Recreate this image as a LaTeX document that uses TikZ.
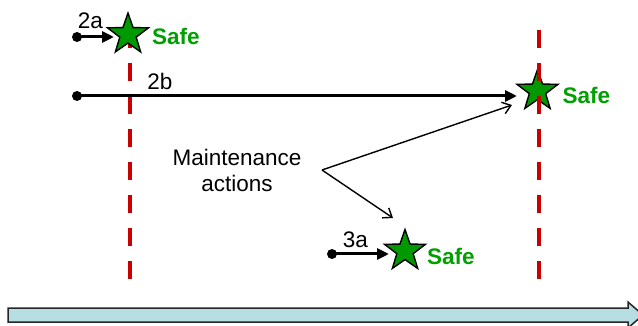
\documentclass[tikz,border=0pt]{standalone}
\usepackage{fontspec}
\setmainfont{Liberation Sans}
\usetikzlibrary{shapes.geometric,arrows.meta,calc}
\definecolor{starGreen}{RGB}{0,153,0}
\definecolor{safeGreen}{RGB}{0,160,0}
\definecolor{lineRed}{RGB}{200,0,0}
\definecolor{barCyan}{RGB}{183,222,226}
\tikzset{
  x=1pt, y=1pt,
  safestar/.style={star, star points=5, star point ratio=2.5, minimum size=43pt, inner sep=0pt,
    fill=starGreen, draw=black, line width=1.4pt},
  safelabel/.style={anchor=west, text=safeGreen, font=\fontsize{22.5}{25}\selectfont\bfseries, inner sep=0pt},
  caselabel/.style={font=\fontsize{22.5}{25}\selectfont, inner sep=0pt},
  startdot/.style={circle, fill=black, inner sep=0pt, minimum size=10pt},
  casearrow/.style={line width=3pt, -{Triangle[length=12pt,width=11pt]}},
  reddash/.style={draw=lineRed, line width=4pt, dash pattern=on 18pt off 15pt},
  thinarrow/.style={line width=1.4pt, -{Straight Barb[length=8pt,width=12pt,line width=1.4pt]}},
  maintlabel/.style={align=center, font=\fontsize{22.5}{26}\selectfont, inner sep=0pt}
}
\begin{document}
\begin{tikzpicture}
\useasboundingbox (0,0) rectangle (638,-326);

% time axis block arrow
\begin{scope}
\clip (0,0) rectangle (638,-326);
\draw[fill=barCyan, draw=black!85, line width=1.5pt]
  (8,-308) -- (628,-308) -- (628,-302) -- (643,-315) -- (628,-328) -- (628,-322) -- (8,-322) -- cycle;
\end{scope}

% left red dashed limit line (behind its star)
\coordinate (r1top) at (129.5,-30);
\coordinate (r1bot) at (129.5,-282);
\draw[reddash] (r1top) -- (r1bot);

% stars
\node[safestar] (s2a) at (128,-34.5) {};
\node[safestar] (s2b) at (537.5,-91) {};
\node[safestar] (s3a) at (405,-251) {};

% right red dashed limit line (over its star)
\coordinate (r2top) at (538.5,-30);
\coordinate (r2bot) at (538.5,-282);
\draw[reddash] (r2top) -- (r2bot);

% Safe labels
\node[safelabel] (safe2a) at (152,-36) {Safe};
\node[safelabel] (safe2b) at (562.5,-95) {Safe};
\node[safelabel] (safe3a) at (427,-256) {Safe};

% case 2a
\node[startdot] (d2a) at (77,-37) {};
\coordinate (e2a) at (114,-37);
\draw[casearrow] (d2a.center) -- (e2a);
\node[caselabel] (l2a) at (90.5,-21) {2a};

% case 2b
\node[startdot] (d2b) at (77,-96) {};
\coordinate (e2b) at (517,-96);
\draw[casearrow] (d2b.center) -- (e2b);
\node[caselabel] (l2b) at (160,-81.5) {2b};

% case 3a
\node[startdot] (d3a) at (332,-254) {};
\coordinate (e3a) at (389,-254);
\draw[casearrow] (d3a.center) -- (e3a);
\node[caselabel] (l3a) at (355.5,-240) {3a};

% maintenance actions
\node[maintlabel] (maint) at (237,-170) {Maintenance\\actions};
\coordinate (mv) at (322,-170);
\coordinate (mt1) at (512,-105);
\coordinate (mt2) at (393,-218);
\draw[thinarrow] (mv) -- (mt1);
\draw[thinarrow] (mv) -- (mt2);
\end{tikzpicture}
\end{document}
